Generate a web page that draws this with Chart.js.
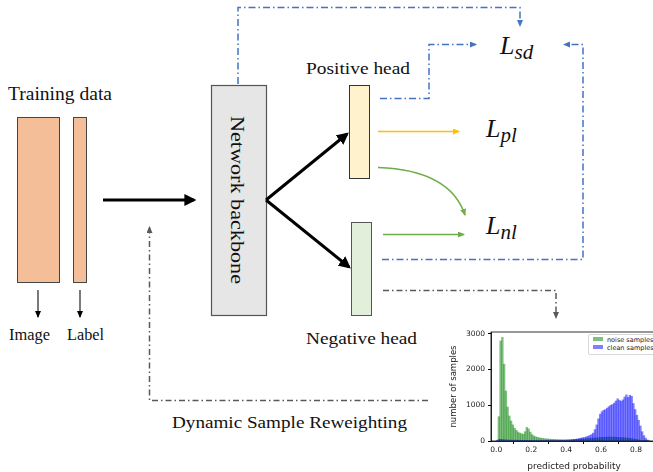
<!DOCTYPE html>
<html>
<head>
<meta charset="utf-8">
<script src="https://cdn.jsdelivr.net/npm/chart.js@4/dist/chart.umd.min.js"></script>
<style>
  html, body { margin: 0; padding: 0; background: #fff; }
  #page { position: relative; width: 653px; height: 472px; overflow: hidden; background: #fff; }
  #diagram { position: absolute; left: 0; top: 0; }
  #histWrap { position: absolute; left: 430px; top: 322px; width: 240px; height: 150px; }
  .legend { position: absolute; left: 588px; top: 334px; width: 70px; height: 19px; background: #fff;
            border: 1px solid #d8d8d8; border-radius: 2px; font: 6.5px "DejaVu Sans", sans-serif; color: #222; }
  .legend .row { position: absolute; left: 4px; height: 7px; line-height: 7px; white-space: nowrap; }
  .legend .sw { display: inline-block; width: 10px; height: 4px; margin-right: 4px; vertical-align: 1px; }
</style>
</head>
<body>
<div id="page">
<svg id="diagram" width="653" height="472" xmlns="http://www.w3.org/2000/svg">
  <defs>
    <marker id="aBlack" markerWidth="4" markerHeight="4" refX="3.2" refY="2" orient="auto" markerUnits="strokeWidth">
      <path d="M0,0 L4,2 L0,4 z" fill="#000"/>
    </marker>
    <marker id="aThin" markerWidth="8" markerHeight="8" refX="6" refY="3" orient="auto" markerUnits="userSpaceOnUse">
      <path d="M0,0 L7,3 L0,6 z" fill="#000"/>
    </marker>
    <marker id="aBlue" markerWidth="8" markerHeight="8" refX="6" refY="3" orient="auto" markerUnits="userSpaceOnUse">
      <path d="M0,0 L7,3 L0,6 z" fill="#4472c4"/>
    </marker>
    <marker id="aGray" markerWidth="8" markerHeight="8" refX="6" refY="3" orient="auto" markerUnits="userSpaceOnUse">
      <path d="M0,0 L7,3 L0,6 z" fill="#595959"/>
    </marker>
    <marker id="aGreen" markerWidth="8" markerHeight="8" refX="6" refY="3" orient="auto" markerUnits="userSpaceOnUse">
      <path d="M0,0 L7,3 L0,6 z" fill="#70ad47"/>
    </marker>
    <marker id="aYellow" markerWidth="8" markerHeight="8" refX="6" refY="3" orient="auto" markerUnits="userSpaceOnUse">
      <path d="M0,0 L7,3 L0,6 z" fill="#ffc000"/>
    </marker>
  </defs>

  <!-- training data -->
  <text x="8" y="100" font-family="Liberation Serif" font-size="19" fill="#111" textLength="104" lengthAdjust="spacingAndGlyphs">Training data</text>
  <rect x="17.5" y="117.5" width="42" height="165" fill="#f4be98" stroke="#444" stroke-width="1"/>
  <rect x="73.5" y="117.5" width="13" height="165" fill="#f4be98" stroke="#444" stroke-width="1"/>
  <line x1="38" y1="290" x2="38" y2="317" stroke="#222" stroke-width="1.2" marker-end="url(#aThin)"/>
  <line x1="80" y1="290" x2="80" y2="317" stroke="#222" stroke-width="1.2" marker-end="url(#aThin)"/>
  <text x="9" y="340" font-family="Liberation Serif" font-size="16" fill="#111" textLength="41" lengthAdjust="spacingAndGlyphs">Image</text>
  <text x="67" y="340" font-family="Liberation Serif" font-size="16" fill="#111" textLength="37" lengthAdjust="spacingAndGlyphs">Label</text>

  <!-- main arrow -->
  <line x1="103" y1="200" x2="194" y2="200" stroke="#000" stroke-width="3" marker-end="url(#aBlack)"/>

  <!-- backbone -->
  <rect x="211.5" y="85.5" width="55" height="230" fill="#e6e6e6" stroke="#555" stroke-width="1.2"/>
  <text transform="translate(231,200) rotate(90)" text-anchor="middle" font-family="Liberation Serif" font-size="19" fill="#111" textLength="168" lengthAdjust="spacingAndGlyphs">Network backbone</text>

  <line x1="266" y1="200" x2="347" y2="134" stroke="#000" stroke-width="3" marker-end="url(#aBlack)"/>
  <line x1="266" y1="200" x2="349" y2="267" stroke="#000" stroke-width="3" marker-end="url(#aBlack)"/>

  <!-- heads -->
  <text x="306" y="74" font-family="Liberation Serif" font-size="16" fill="#111" textLength="104" lengthAdjust="spacingAndGlyphs">Positive head</text>
  <rect x="349.5" y="85.5" width="20" height="93" fill="#fff2cc" stroke="#333" stroke-width="1"/>
  <rect x="351.5" y="222.5" width="20" height="93" fill="#e2efda" stroke="#555" stroke-width="1"/>
  <text x="306" y="344" font-family="Liberation Serif" font-size="16" fill="#111" textLength="111" lengthAdjust="spacingAndGlyphs">Negative head</text>

  <!-- loss arrows -->
  <line x1="378" y1="131.5" x2="459" y2="131.5" stroke="#ffc000" stroke-width="1.6" marker-end="url(#aYellow)"/>
  <path d="M378,167.5 Q450,170 465,215" fill="none" stroke="#70ad47" stroke-width="1.6" marker-end="url(#aGreen)"/>
  <line x1="383" y1="234.5" x2="464" y2="234.5" stroke="#70ad47" stroke-width="1.6" marker-end="url(#aGreen)"/>

  <!-- losses -->
  <text x="500" y="54" font-family="Liberation Serif" font-style="italic" font-size="26" fill="#111">L<tspan font-size="21" dy="5">sd</tspan></text>
  <text x="486" y="137" font-family="Liberation Serif" font-style="italic" font-size="26" fill="#111">L<tspan font-size="21" dy="5">pl</tspan></text>
  <text x="486" y="234" font-family="Liberation Serif" font-style="italic" font-size="26" fill="#111">L<tspan font-size="21" dy="5">nl</tspan></text>

  <!-- blue self-distillation lines -->
  <g fill="none" stroke="#4472c4" stroke-width="1.5" stroke-dasharray="7 3 1.5 3">
    <polyline points="238,84 238,7.5 520,7.5 520,26" marker-end="url(#aBlue)"/>
    <polyline points="380,98.5 429,98.5 429,44.5 476,44.5" marker-end="url(#aBlue)"/>
    <polyline points="382,259.5 583,259.5 583,44.5 564,44.5" marker-end="url(#aBlue)"/>
  </g>

  <!-- gray reweighting lines -->
  <g fill="none" stroke="#595959" stroke-width="1.5" stroke-dasharray="6 3 1.5 3">
    <polyline points="383,290.5 556,290.5 556,318" marker-end="url(#aGray)"/>
    <polyline points="428,400.5 149.5,400.5 149.5,227" marker-end="url(#aGray)"/>
  </g>
  <text x="172" y="428" font-family="Liberation Serif" font-size="17" fill="#111" textLength="235" lengthAdjust="spacingAndGlyphs">Dynamic Sample Reweighting</text>
</svg>

<div id="histWrap"><canvas id="hist" width="240" height="150" style="width:240px;height:150px"></canvas></div>
<div class="legend">
  <div class="row" style="top:2px"><span class="sw" style="background:rgba(0,128,0,0.5)"></span>noise samples</div>
  <div class="row" style="top:10px"><span class="sw" style="background:rgba(0,0,255,0.5)"></span>clean samples</div>
</div>
</div>

<script>
// histogram bins of predicted probability, width 0.01 starting at 0
const binWidth = 0.01;
const noiseCounts = [
  0, 680, 2800, 2900, 2150, 1400, 950, 700, 560, 450,
  360, 300, 250, 220, 200, 190, 260, 380, 340, 250,
  180, 140, 120, 100, 90, 80, 72, 66, 60, 56,
  52, 48, 45, 42, 40, 38, 36, 35, 34, 34,
  34, 35, 36, 38, 40, 42, 45, 48, 52, 56,
  60, 64, 68, 72, 76, 80, 84, 88, 92, 96,
  100, 104, 106, 108, 110, 110, 108, 106, 104, 102,
  100, 96, 92, 88, 84, 80, 74, 66, 58, 48,
  40, 30, 22, 15, 10, 6, 3, 0
];
const cleanCounts = [
  20, 40, 45, 40, 35, 30, 28, 26, 25, 24,
  23, 22, 22, 21, 20, 20, 19, 19, 18, 18,
  16, 15, 15, 14, 14, 13, 13, 12, 12, 12,
  12, 13, 13, 14, 15, 16, 17, 18, 19, 20,
  22, 25, 30, 35, 42, 50, 58, 68, 80, 90,
  100, 115, 130, 155, 180, 220, 320, 450, 620, 750,
  820, 860, 880, 920, 960, 1000, 1020, 1060, 1120, 1180,
  1140, 1110, 1150, 1230, 1290, 1220, 1280, 1250, 1050, 880,
  720, 580, 420, 260, 150, 80, 30, 0
];
const xTicks = [0.0, 0.2, 0.4, 0.6, 0.8];
const yTicks = [0, 1000, 2000, 3000];

const toPoints = arr => arr.map((v, i) => ({ x: (i + 0.5) * binWidth, y: v }));

const frame = {
  id: 'frame',
  afterDraw(chart) {
    const a = chart.chartArea, c = chart.ctx;
    c.save();
    c.strokeStyle = '#000';
    c.lineWidth = 0.8;
    c.strokeRect(a.left, a.top, a.right - a.left, a.bottom - a.top);
    c.restore();
  }
};

new Chart(document.getElementById('hist'), {
  type: 'bar',
  data: {
    datasets: [
      { label: 'noise samples', data: toPoints(noiseCounts), backgroundColor: 'rgba(0,128,0,0.5)', order: 2 },
      { label: 'clean samples', data: toPoints(cleanCounts), backgroundColor: 'rgba(0,0,255,0.5)', order: 1 }
    ]
  },
  options: {
    responsive: false,
    animation: false,
    layout: { padding: { top: 10, right: 13, left: 19, bottom: 0 } },
    datasets: { bar: { grouped: false, barPercentage: 1, categoryPercentage: 1, borderWidth: 0 } },
    plugins: { legend: { display: false }, tooltip: { enabled: false } },
    scales: {
      x: {
        type: 'linear', min: -0.03, max: 0.92, offset: false,
        afterBuildTicks: s => { s.ticks = xTicks.map(v => ({ value: v })); },
        afterFit: s => { s.height = 31; },
        ticks: { callback: v => v.toFixed(1), font: { family: 'DejaVu Sans', size: 7.5 }, color: '#222', padding: 2, maxRotation: 0 },
        grid: { drawOnChartArea: false, tickLength: 3, color: '#000' },
        border: { color: '#000', width: 0.8 },
        title: { display: true, text: 'predicted probability', font: { family: 'DejaVu Sans', size: 9 }, color: '#222', padding: 0 }
      },
      y: {
        min: 0, max: 3050,
        afterBuildTicks: s => { s.ticks = yTicks.map(v => ({ value: v })); },
        afterFit: s => { s.width = 42; },
        ticks: { callback: v => String(v), font: { family: 'DejaVu Sans', size: 7.5 }, color: '#222', padding: 3 },
        grid: { drawOnChartArea: false, tickLength: 3, color: '#000' },
        border: { color: '#000', width: 0.8 },
        title: { display: true, text: 'number of samples', font: { family: 'DejaVu Sans', size: 8.5 }, color: '#222', padding: 0 }
      }
    }
  },
  plugins: [frame]
});
</script>
</body>
</html>
